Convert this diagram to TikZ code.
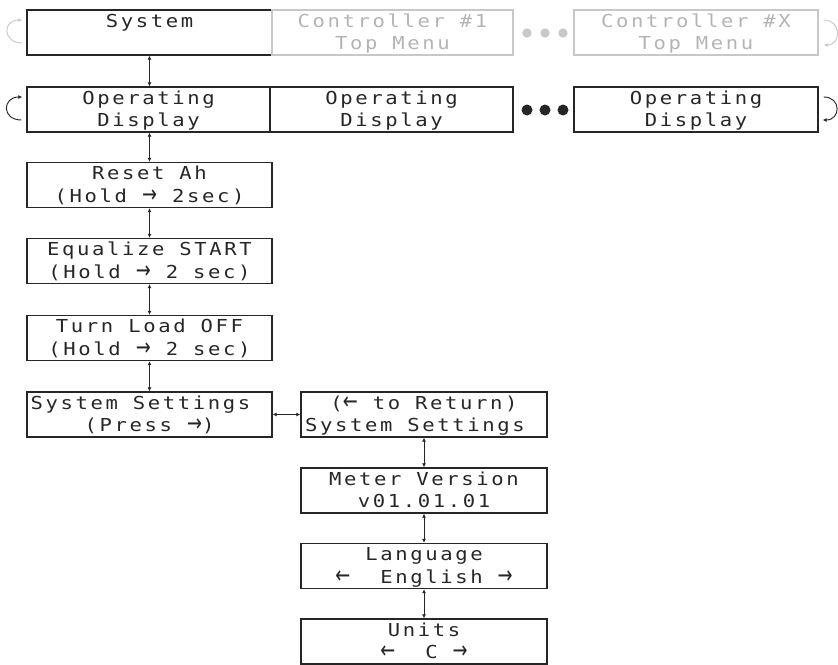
\documentclass[tikz,border=0pt]{standalone}
\usepackage{fontspec}
\usetikzlibrary{arrows.meta}
\newfontfamily\lcdfont[LetterSpace=14.7,FakeStretch=1.15]{DejaVu Sans Mono}
\newfontfamily\arrowfont{DejaVu Sans}
\newcommand\st{\rule[-3.8pt]{0pt}{16.8pt}}
\newcommand\rarr{\makebox[11.3pt]{\scalebox{1}[1.35]{\arrowfont →}}}
\newcommand\larr{\makebox[11.3pt]{\scalebox{1}[1.35]{\arrowfont ←}}}
\newcommand\padr{\hspace*{13.5pt}}
\definecolor{ink}{HTML}{262626}
\definecolor{faint}{HTML}{C8C8C8}
\definecolor{fainttext}{HTML}{B4B4B4}
\tikzset{
  box/.style={draw=ink, line width=1pt, minimum height=33.75pt, inner sep=0pt,
    align=center, text=ink, font=\lcdfont\fontsize{13.4}{16.9}\selectfont},
  ghost/.style={box, draw=faint, text=fainttext},
  link/.style={draw=ink, line width=0.7pt, {Latex[length=3pt,width=3pt]}-{Latex[length=3pt,width=3pt]}},
  selfloop/.style={line width=0.7pt, -{Latex[length=3pt,width=3pt]}},
  bigdot/.style={circle, fill=ink, minimum size=8.25pt, inner sep=0pt},
  ghostdot/.style={circle, fill=faint, minimum size=7pt, inner sep=0pt}
}
\begin{document}
\begin{tikzpicture}[x=0.75pt,y=-0.75pt]
\useasboundingbox (0,0) rectangle (838,664);
% top row
\node[box, minimum width=183.75pt] (sys) at (149.5,32.5) {\st System\\\st};
\node[ghost, minimum width=180.75pt] (c1) at (392.5,32.5) {\st Controller \#1\\\st Top Menu};
\node[ghost, minimum width=183pt] (cx) at (696,32.5) {\st Controller \#X\\\st Top Menu};
\node[ghostdot] (g1) at (527,33) {};
\node[ghostdot] (g2) at (545,33) {};
\node[ghostdot] (g3) at (563,33) {};
% second row
\node[box, minimum width=182.25pt] (op1) at (148.5,109.5) {\st Operating\\\st Display};
\node[box, minimum width=182.25pt] (op2) at (391.5,109.5) {\st Operating\\\st Display};
\node[box, minimum width=183pt] (op3) at (696,109.5) {\st Operating\\\st Display};
\node[bigdot] (b1) at (527,110) {};
\node[bigdot] (b2) at (545,110) {};
\node[bigdot] (b3) at (563,110) {};
% left column
\node[box, minimum width=183.75pt] (reset) at (149.5,185) {\st Reset Ah\\\st (Hold \rarr{} 2sec)};
\node[box, minimum width=183.75pt] (eq) at (149.5,261) {\st Equalize START\\\st (Hold \rarr{} 2 sec)};
\node[box, minimum width=183.75pt] (turn) at (149.5,338) {\st Turn Load OFF\\\st (Hold \rarr{} 2 sec)};
\node[box, minimum width=183.75pt] (ss) at (149.5,414.5) {\st System Settings\padr\\\st (Press \rarr)};
% right column
\node[box, minimum width=184.5pt] (ret) at (424,414.5) {\st (\larr{} to Return)\\\st System Settings\padr};
\node[box, minimum width=184.5pt] (meter) at (424,490.5) {\st Meter Version\\\st v01.01.01};
\node[box, minimum width=184.5pt] (lang) at (424,566) {\st Language\\\st \larr\ \ English \rarr};
\node[box, minimum width=184.5pt] (units) at (424,641.5) {\st Units\\\st \larr\ \ C \rarr};
% links
\draw[link] (sys.south) -- (sys.south |- op1.north);
\draw[link] (reset.north |- op1.south) -- (reset.north);
\draw[link] (reset.south) -- (eq.north);
\draw[link] (eq.south) -- (turn.north);
\draw[link] (turn.south) -- (ss.north);
\draw[link] (ss.east) -- (ss.east -| ret.west);
\draw[link] (ret.south) -- (meter.north);
\draw[link] (meter.south) -- (lang.north);
\draw[link] (lang.south) -- (units.north);
% loops
\draw[selfloop, faint] ([shift={(-4,10.5)}]sys.west) .. controls +(-20,0) and +(-20,0) .. ([shift={(-4,-12.5)}]sys.west);
\draw[selfloop, ink] ([shift={(-5,10.5)}]op1.west) .. controls +(-20,0) and +(-20,0) .. ([shift={(-4,-12.5)}]op1.west);
\draw[selfloop, faint] ([shift={(5,-12.5)}]cx.east) .. controls +(18,0) and +(18,0) .. ([shift={(5,12.5)}]cx.east);
\draw[selfloop, ink] ([shift={(5,-12.5)}]op3.east) .. controls +(18,0) and +(18,0) .. ([shift={(4,10.5)}]op3.east);
\end{tikzpicture}
\end{document}
